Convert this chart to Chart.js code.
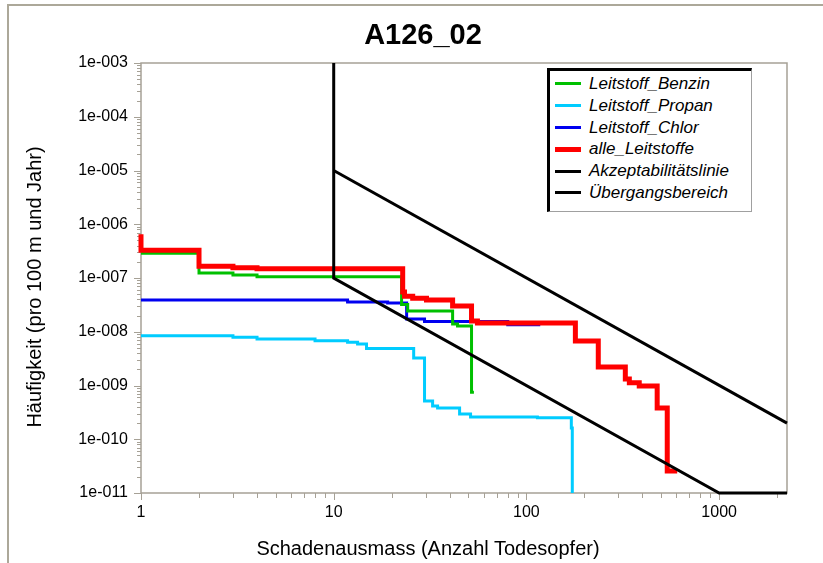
<!DOCTYPE html>
<html>
<head>
<meta charset="utf-8">
<script src="https://cdn.jsdelivr.net/npm/chart.js@4/dist/chart.umd.min.js"></script>
<style>
body{margin:0;background:#fff;font-family:"Liberation Sans",Arial,sans-serif;color:#000}
#wrap{position:relative;width:823px;height:563px;overflow:hidden;background:#fff}
#frame{position:absolute;left:7px;top:4px;right:-10px;bottom:-10px;border-top:2px solid #aca899;border-left:2px solid #aca899}
canvas{position:absolute;left:0;top:0}
#title{position:absolute;left:323px;top:20px;width:200px;text-align:center;font-weight:bold;font-size:29px;line-height:29px}
#xTitle{position:absolute;left:228px;top:538px;width:400px;text-align:center;font-size:20px;line-height:20px}
#yTitle{position:absolute;left:-166px;top:277px;width:400px;text-align:center;font-size:20px;line-height:20px;transform:rotate(-90deg)}
#legend{position:absolute;left:547px;top:68px;width:205px;height:144px;box-sizing:border-box;background:#fff;
  border:1px solid #a0a0a0;border-top:3px solid #000;border-left:3px solid #000;padding-top:2px}
.row{position:relative;height:21.8px;line-height:21.8px;font-size:17px;font-style:italic;white-space:nowrap}
.row i{position:absolute;left:5px;width:26px;top:50%}
.row span{position:absolute;left:39px;top:0}
</style>
</head>
<body>
<div id="wrap">
  <div id="frame"></div>
  <canvas id="chart" width="823" height="563"></canvas>
  <div id="title">A126_02</div>
  <div id="yTitle">Häufigkeit (pro 100 m und Jahr)</div>
  <div id="xTitle">Schadenausmass (Anzahl Todesopfer)</div>
  <div id="legend"></div>
</div>
<script>
/* ---------- data ---------- */
const xTickValues = [1, 10, 100, 1000];
const xTickLabels = ['1', '10', '100', '1000'];
const yTickValues = [1e-3, 1e-4, 1e-5, 1e-6, 1e-7, 1e-8, 1e-9, 1e-10, 1e-11];
const yTickLabels = ['1e-003','1e-004','1e-005','1e-006','1e-007','1e-008','1e-009','1e-010','1e-011'];

// Schadenausmass N (step start) / Häufigkeit F
const benzinN = [1, 2, 3, 4, 22.5, 24.2, 41.4, 43.9, 51.9, 53.4];
const benzinF = [2.9e-7, 1.24e-7, 1.14e-7, 1.05e-7, 3.2e-8, 2.43e-8, 1.39e-8, 1.28e-8, 7.5e-10, 7.5e-10];

const propanN = [1, 3, 4, 8, 11.8, 13.3, 14.8, 26, 29.6, 32.6, 34.6, 45, 51.3, 114, 171, 173];
const propanF = [8.45e-9, 7.9e-9, 7.3e-9, 6.8e-9, 6.35e-9, 5.9e-9, 4.9e-9, 3.25e-9, 5.15e-10, 4.16e-10, 3.8e-10, 2.95e-10, 2.6e-10, 2.5e-10, 1.62e-10, 1e-11];

const chlorN = [1, 11.8, 19.05, 23.9, 29.6, 80, 118];
const chlorF = [3.9e-8, 3.57e-8, 3.43e-8, 1.73e-8, 1.55e-8, 1.35e-8, 1.35e-8];

const alleN = [1, 1, 2, 3, 4, 22.8, 23.3, 25.7, 30.3, 41.4, 51.9, 55.7, 179.5, 236, 326, 342, 385, 477, 538, 606];
const alleF = [6.5e-7, 3.3e-7, 1.66e-7, 1.55e-7, 1.48e-7, 5.5e-8, 4.6e-8, 4.2e-8, 3.9e-8, 3.0e-8, 1.58e-8, 1.45e-8, 6.7e-9, 2.2e-9, 1.32e-9, 1.12e-9, 9.8e-10, 3.8e-10, 2.56e-11, 2.56e-11];

const akzeptN = [10, 2250];
const akzeptF = [1e-5, 2e-10];

const uebergN = [10, 10, 1000, 2250];
const uebergF = [1e-3, 1e-7, 1e-11, 1e-11];

const AXIS = '#a6a196';
const pts = (xs, ys) => xs.map((x, i) => ({x, y: ys[i]}));

const series = [
  {label:'Leitstoff_Benzin',     n:benzinN, f:benzinF, color:'#00c000', w:3, step:true,  order:2},
  {label:'Leitstoff_Propan',     n:propanN, f:propanF, color:'#00ccff', w:3, step:true,  order:4},
  {label:'Leitstoff_Chlor',      n:chlorN,  f:chlorF,  color:'#0000f0', w:3, step:true,  order:3},
  {label:'alle_Leitstoffe',      n:alleN,   f:alleF,   color:'#ff0000', w:5, step:true,  order:1},
  {label:'Akzeptabilitätslinie', n:akzeptN, f:akzeptF, color:'#000000', w:3, step:false, order:0},
  {label:'Übergangsbereich',     n:uebergN, f:uebergF, color:'#000000', w:3, step:false, order:0}
];

/* ---------- legend (html) ---------- */
document.getElementById('legend').innerHTML = series.map(s => `
  <div class="row"><i style="height:${s.w}px;margin-top:-${s.w/2}px;background:${s.color}"></i><span>${s.label}</span></div>`).join('');

/* ---------- ticks ---------- */
function decadeTicks(majors){
  const out = [];
  const hi = Math.max(...majors);
  majors.slice().sort((a,b)=>a-b).forEach(m => {
    out.push({value:m, major:true});
    if(m < hi) for(let k=2;k<=9;k++) out.push({value:k*m, major:false});
  });
  return out;
}
function xTicks(){
  const out = decadeTicks(xTickValues);
  out.push({value:2000, major:false});
  return out;
}

// plot frame + outward tick marks, drawn under the curves
const frameTicks = {
  id:'frameTicks',
  beforeDatasetsDraw(chart){
    const {ctx, chartArea:a, scales:{x, y}} = chart;
    ctx.save();
    ctx.strokeStyle = AXIS;
    ctx.lineWidth = 1;
    ctx.beginPath();
    y.ticks.forEach(t => {
      const py = Math.round(y.getPixelForValue(t.value)) + 0.5;
      ctx.moveTo(a.left - (t.major ? 7 : 4), py); ctx.lineTo(a.left, py);
    });
    x.ticks.forEach(t => {
      const px = Math.round(x.getPixelForValue(t.value)) + 0.5;
      ctx.moveTo(px, a.bottom); ctx.lineTo(px, a.bottom + (t.major ? 7 : 5));
    });
    ctx.stroke();
    ctx.lineWidth = 1.5;
    ctx.strokeRect(a.left, a.top, a.right - a.left, a.bottom - a.top);
    ctx.restore();
  }
};

new Chart(document.getElementById('chart'), {
  type:'line',
  data:{
    datasets: series.map(s => ({
      label:s.label,
      data:pts(s.n, s.f),
      borderColor:s.color,
      backgroundColor:s.color,
      borderWidth:s.w,
      stepped:s.step,
      pointRadius:0,
      fill:false,
      clip:4,
      order:s.order,
      borderJoinStyle:'miter',
      borderCapStyle:'butt'
    }))
  },
  options:{
    responsive:false,
    animation:false,
    events:[],
    layout:{padding:{left:0, top:63, right:36, bottom:0}},
    plugins:{legend:{display:false}, tooltip:{enabled:false}, title:{display:false}},
    scales:{
      x:{
        type:'logarithmic', min:1, max:2250,
        afterBuildTicks:s => { s.ticks = xTicks(); },
        afterFit:s => { s.height = 70; },
        grid:{display:false, drawTicks:false},
        border:{display:false},
        ticks:{
          autoSkip:false, maxRotation:0, padding:10, color:'#000',
          font:{family:'"Liberation Sans", Arial, sans-serif', size:16},
          callback:v => { const i = xTickValues.indexOf(v); return i >= 0 ? xTickLabels[i] : ''; }
        }
      },
      y:{
        type:'logarithmic', min:1e-11, max:1e-3,
        afterBuildTicks:s => { s.ticks = decadeTicks(yTickValues); },
        afterFit:s => { s.width = 141; },
        grid:{display:false, drawTicks:false},
        border:{display:false},
        ticks:{
          autoSkip:false, padding:13, color:'#000',
          font:{family:'"Liberation Sans", Arial, sans-serif', size:16},
          callback:v => {
            const i = yTickValues.findIndex(t => Math.abs(t - v) / t < 1e-6);
            return i >= 0 ? yTickLabels[i] : '';
          }
        }
      }
    }
  },
  plugins:[frameTicks]
});
</script>
</body>
</html>
